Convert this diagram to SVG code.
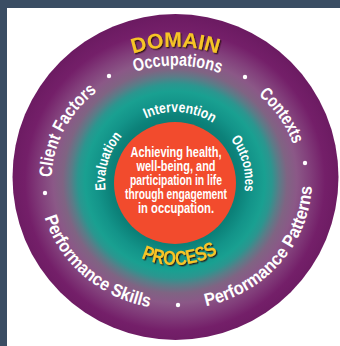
<svg xmlns="http://www.w3.org/2000/svg" width="340" height="346" viewBox="0 0 340 346">
  <defs>
    <radialGradient id="wheelFill" gradientUnits="userSpaceOnUse" cx="175" cy="181" r="165">
      <stop offset="0.333" stop-color="#0a7a72"/>
      <stop offset="0.394" stop-color="#0c8179"/>
      <stop offset="0.473" stop-color="#139489"/>
      <stop offset="0.545" stop-color="#19a091"/>
      <stop offset="0.588" stop-color="#2b968f"/>
      <stop offset="0.630" stop-color="#597d88"/>
      <stop offset="0.679" stop-color="#7f6483"/>
      <stop offset="0.739" stop-color="#8b5887"/>
      <stop offset="0.818" stop-color="#823f7b"/>
      <stop offset="0.909" stop-color="#741f69"/>
      <stop offset="1" stop-color="#6c1b62"/>
    </radialGradient>
    <filter id="goldShadow" x="-20%" y="-30%" width="140%" height="160%">
      <feDropShadow dx="1.3" dy="1.3" stdDeviation="0.6" flood-color="#2a0a10" flood-opacity="0.85"/>
    </filter>

    <!-- outer ring: upper labels read clockwise, lower labels read left to right -->
    <path id="arcDomain" d="M98.6,71.2 A134,134 0 0 1 252.4,71.2"/>
    <path id="arcOccupations" d="M113.5,81 A124,115.5 0 0 1 241.2,83.1"/>
    <path id="arcClient" d="M53.4,201.1 A124,115.5 0 0 1 117.3,79"/>
    <path id="arcContexts" d="M237.5,81 A124,115.5 0 0 1 298.8,168.9"/>
    <path id="arcSkills" d="M40.3,198.9 A136.5,128.5 0 0 0 168.4,309.3"/>
    <path id="arcPatterns" d="M187.4,309 A136.5,128.5 0 0 0 311.2,167.6"/>

    <!-- inner ring -->
    <path id="arcIntervention" d="M133.9,125.4 A70,70 0 0 1 223.6,131.6"/>
    <path id="arcEvaluation" d="M110.6,209.3 A70,70 0 0 1 136.9,123.3"/>
    <path id="arcOutcomes" d="M215.2,124.7 A70,70 0 0 1 238.4,211.6"/>
    <path id="arcProcess" d="M121.6,245.6 A83,83 0 0 0 235.7,238.6"/>
  </defs>

  <style>
    .txt { font-family: "Liberation Sans", Arial, sans-serif; font-weight: bold; }
    .outer { font-size: 18px; fill: #ffffff; }
    .inner { font-size: 14.5px; fill: #ffffff; }
    .core { font-size: 14.5px; fill: #ffffff; text-anchor: middle; }
    .gold { fill: #f7c427; filter: url(#goldShadow); }
    .dot { fill: #ffffff; }
  </style>

  <!-- frame -->
  <rect x="0" y="0" width="340" height="346" fill="#3a4d63"/>
  <rect x="7" y="8" width="333" height="338" fill="#ffffff"/>

  <!-- wheel body -->
  <g id="wheel">
    <circle cx="175.5" cy="177" r="163" fill="url(#wheelFill)"/>
  </g>

  <g id="core">
    <circle cx="175" cy="183" r="61" fill="#f24b2d"/>
    <text class="txt core" x="176" y="156.5" textLength="91" lengthAdjust="spacingAndGlyphs">Achieving health,</text>
    <text class="txt core" x="176" y="170.5" textLength="79" lengthAdjust="spacingAndGlyphs">well-being, and</text>
    <text class="txt core" x="176" y="184.5" textLength="92" lengthAdjust="spacingAndGlyphs">participation in life</text>
    <text class="txt core" x="176" y="198.5" textLength="102" lengthAdjust="spacingAndGlyphs">through engagement</text>
    <text class="txt core" x="176" y="212.5" textLength="76" lengthAdjust="spacingAndGlyphs">in occupation.</text>
  </g>

  <g id="domain">
    <text class="txt gold" font-size="21" text-anchor="middle"><textPath href="#arcDomain" startOffset="50%" textLength="86" lengthAdjust="spacingAndGlyphs">DOMAIN</textPath></text>
  </g>
  <g id="occupations">
    <text class="txt outer" text-anchor="middle"><textPath href="#arcOccupations" startOffset="50%" textLength="87" lengthAdjust="spacingAndGlyphs">Occupations</textPath></text>
  </g>
  <g id="client-factors">
    <text class="txt outer" text-anchor="middle"><textPath href="#arcClient" startOffset="50%" textLength="100" lengthAdjust="spacingAndGlyphs">Client Factors</textPath></text>
  </g>
  <g id="contexts">
    <text class="txt outer" text-anchor="middle"><textPath href="#arcContexts" startOffset="50%" textLength="61" lengthAdjust="spacingAndGlyphs">Contexts</textPath></text>
  </g>
  <g id="performance-skills">
    <text class="txt outer" text-anchor="middle"><textPath href="#arcSkills" startOffset="50%" textLength="145" lengthAdjust="spacingAndGlyphs">Performance Skills</textPath></text>
  </g>
  <g id="performance-patterns">
    <text class="txt outer" text-anchor="middle"><textPath href="#arcPatterns" startOffset="50%" textLength="172" lengthAdjust="spacingAndGlyphs">Performance Patterns</textPath></text>
  </g>

  <g id="separators">
    <circle class="dot" cx="109" cy="76" r="2.2"/>
    <circle class="dot" cx="245" cy="77" r="2.2"/>
    <circle class="dot" cx="305" cy="163" r="2.2"/>
    <circle class="dot" cx="45" cy="193" r="2.2"/>
    <circle class="dot" cx="178" cy="305" r="2.2"/>
  </g>

  <g id="intervention">
    <text class="txt inner" text-anchor="middle"><textPath href="#arcIntervention" startOffset="50%" textLength="70" lengthAdjust="spacingAndGlyphs">Intervention</textPath></text>
  </g>
  <g id="evaluation">
    <text class="txt inner" text-anchor="middle"><textPath href="#arcEvaluation" startOffset="50%" textLength="58" lengthAdjust="spacingAndGlyphs">Evaluation</textPath></text>
  </g>
  <g id="outcomes">
    <text class="txt inner" text-anchor="middle"><textPath href="#arcOutcomes" startOffset="50%" textLength="55" lengthAdjust="spacingAndGlyphs">Outcomes</textPath></text>
  </g>
  <g id="process">
    <text class="txt gold" font-size="20" text-anchor="middle"><textPath href="#arcProcess" startOffset="50%" textLength="80" lengthAdjust="spacingAndGlyphs">PROCESS</textPath></text>
  </g>
</svg>
